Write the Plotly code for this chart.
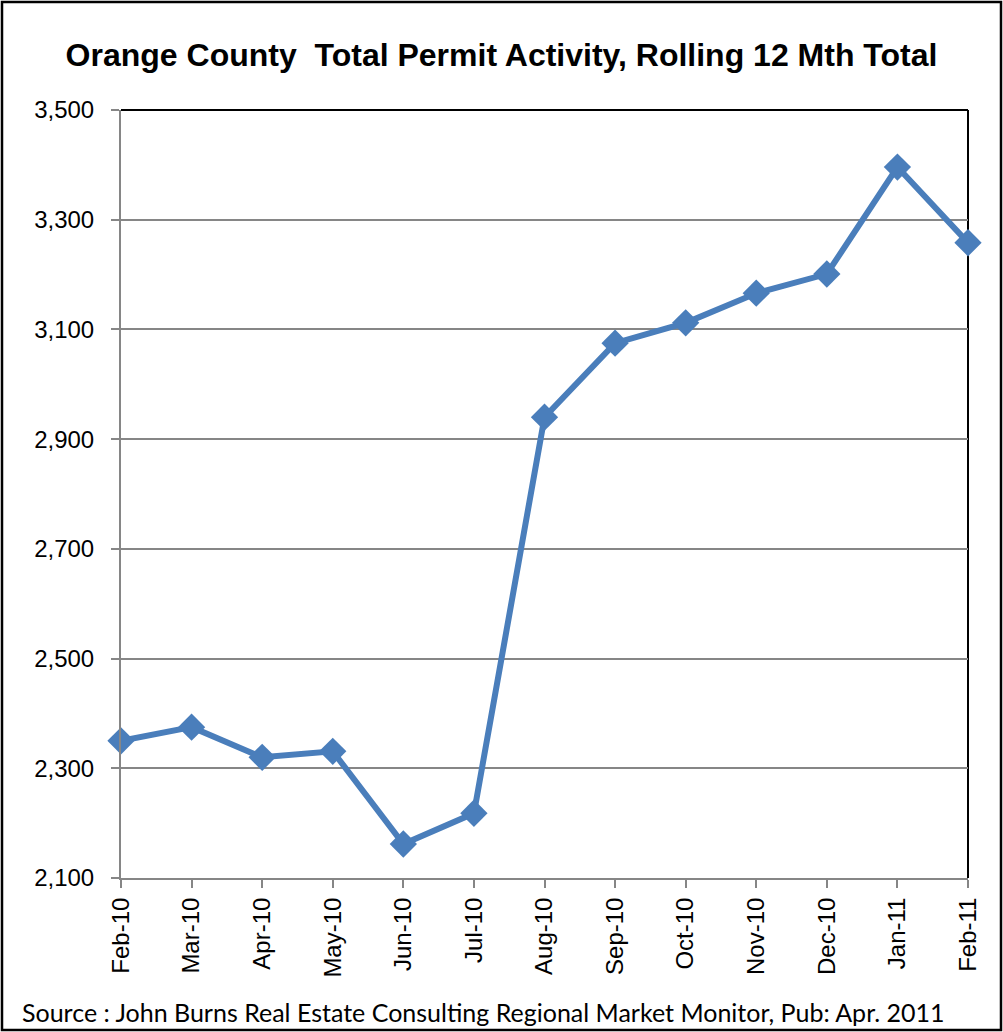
import plotly.graph_objects as go

months = ["Feb-10", "Mar-10", "Apr-10", "May-10", "Jun-10", "Jul-10", "Aug-10",
          "Sep-10", "Oct-10", "Nov-10", "Dec-10", "Jan-11", "Feb-11"]
permits = [2350, 2375, 2320, 2331, 2162, 2218, 2940, 3075, 3112, 3166, 3201, 3396, 3258]
y_ticks = [2100, 2300, 2500, 2700, 2900, 3100, 3300, 3500]
y_tick_labels = ["2,100", "2,300", "2,500", "2,700", "2,900", "3,100", "3,300", "3,500"]

W, H = 1003, 1032
L, R, T, B = 121, 35, 110, 154
pw, ph = W - L - R, H - T - B

def px(x):
    return (x - L) / pw

def py(y):
    return (H - B - y) / ph

fig = go.Figure()
fig.add_trace(go.Scatter(
    x=list(range(len(months))), y=permits, mode="lines+markers",
    line=dict(color="#4a7ebb", width=6),
    marker=dict(symbol="diamond", size=21, color="#4a7ebb"),
    cliponaxis=False, hoverinfo="x+y",
))

fig.update_layout(
    width=W, height=H,
    margin=dict(l=L, r=R, t=T, b=B),
    paper_bgcolor="white", plot_bgcolor="white",
    showlegend=False,
    font=dict(family="Liberation Sans, Arial, sans-serif", color="black"),
    title=dict(text="<b>Orange County  Total Permit Activity, Rolling 12 Mth Total</b>",
               x=0.5, xanchor="center", y=1 - 55 / H, yanchor="middle",
               font=dict(size=32, family="Liberation Sans, Arial, sans-serif", color="black")),
    xaxis=dict(
        tickmode="array", tickvals=list(range(len(months))), ticktext=months,
        range=[0, len(months) - 1], tickangle=-90,
        showgrid=False, zeroline=False,
        showline=True, linecolor="#868686", linewidth=2,
        ticks="outside", ticklen=8, tickcolor="#868686", tickwidth=2,
        tickfont=dict(size=24, color="black"),
    ),
    yaxis=dict(
        tickmode="array", tickvals=y_ticks, ticktext=y_tick_labels,
        range=[2100, 3500],
        showgrid=True, gridcolor="#868686", gridwidth=1.5,
        zeroline=False,
        showline=True, linecolor="#868686", linewidth=2,
        ticks="outside", ticklen=8, tickcolor="#868686", tickwidth=2,
        ticklabelstandoff=12,
        tickfont=dict(size=24, color="black"),
    ),
    shapes=[
        dict(type="line", xref="paper", yref="paper", x0=0, x1=1, y0=1, y1=1,
             line=dict(color="black", width=2), layer="between"),
        dict(type="line", xref="paper", yref="paper", x0=1, x1=1, y0=0, y1=1,
             line=dict(color="black", width=2), layer="between"),
        dict(type="rect", xref="paper", yref="paper",
             x0=px(2), x1=px(1001), y0=py(1030), y1=py(2),
             line=dict(color="black", width=2.5), layer="below"),
    ],
    annotations=[
        dict(text="Source : John Burns Real Estate Consulting Regional Market Monitor, Pub: Apr. 2011",
             xref="paper", yref="paper", x=px(20), y=py(1012), xanchor="left", yanchor="middle",
             showarrow=False, font=dict(size=25, family="Lato, Open Sans, sans-serif", color="black")),
    ],
)

fig.write_html("out.html", config={"displayModeBar": False},
               post_script="document.body.style.margin='0';document.body.style.overflow='hidden';")
